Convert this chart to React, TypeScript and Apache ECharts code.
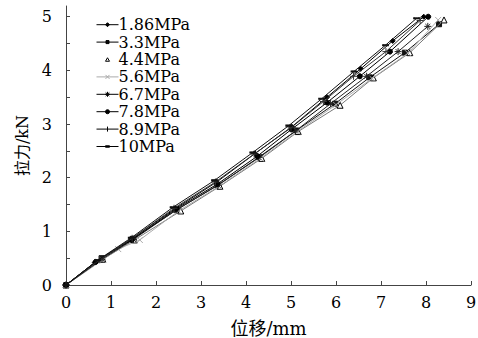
import React, { useEffect, useRef } from "react";
import * as echarts from "echarts";

const seriesNames = ["1.86MPa", "3.3MPa", "4.4MPa", "5.6MPa", "6.7MPa", "7.8MPa", "8.9MPa", "10MPa"];

const s186: number[][] = [[0, 0], [0.64, 0.42], [1.45, 0.86], [2.42, 1.42], [3.35, 1.92], [4.2, 2.45], [5.02, 2.95], [5.8, 3.5], [6.55, 4.03], [7.26, 4.55], [7.95, 5.0]];
const s33: number[][] = [[0, 0], [0.79, 0.5], [1.48, 0.86], [2.46, 1.4], [3.37, 1.86], [4.3, 2.38], [5.12, 2.88], [5.98, 3.38], [6.75, 3.87], [7.53, 4.33], [8.29, 4.86]];
const s44: number[][] = [[0, 0], [0.82, 0.48], [1.52, 0.84], [2.55, 1.38], [3.42, 1.84], [4.35, 2.36], [5.16, 2.86], [6.09, 3.35], [6.83, 3.86], [7.64, 4.33], [8.4, 4.94]];
const s56: number[][] = [[0, 0], [0.82, 0.47], [1.16, 0.67], [1.64, 0.84], [2.5, 1.38], [3.4, 1.84], [4.32, 2.36], [5.14, 2.86], [6.0, 3.36], [6.8, 3.85], [7.6, 4.32], [8.27, 4.94]];
const s67: number[][] = [[0, 0], [0.8, 0.48], [1.5, 0.85], [2.45, 1.4], [3.38, 1.86], [4.28, 2.38], [5.1, 2.87], [5.88, 3.38], [6.68, 3.89], [7.38, 4.35], [8.04, 4.82]];
const s78: number[][] = [[0, 0], [0.66, 0.43], [1.46, 0.84], [2.45, 1.42], [3.36, 1.88], [4.25, 2.4], [5.01, 2.9], [5.8, 3.4], [6.53, 3.89], [7.2, 4.35], [8.05, 5.0]];
const s89: number[][] = [[0, 0], [0.75, 0.47], [1.47, 0.87], [2.4, 1.43], [3.32, 1.92], [4.18, 2.44], [5.0, 2.93], [5.72, 3.42], [6.39, 3.89], [7.11, 4.35], [7.87, 4.93]];
const s10: number[][] = [[0, 0], [0.7, 0.46], [1.45, 0.88], [2.38, 1.45], [3.3, 1.95], [4.15, 2.47], [4.95, 2.97], [5.68, 3.47], [6.4, 3.98], [7.1, 4.47], [7.79, 4.97]];

const xTickLabels = [0, 1, 2, 3, 4, 5, 6, 7, 8, 9];
const yTickLabels = [0, 1, 2, 3, 4, 5];
const yMinorTicks = [0, 0.5, 1, 1.5, 2, 2.5, 3, 3.5, 4, 4.5, 5];

const FONT = "'DejaVu Serif', 'Noto Sans CJK SC', serif";

const LINE = "M0,5L22,5";
const EXT = "M0,5L0,5M22,5L22,5";

export default function App() {
  const ref = useRef<HTMLDivElement>(null);
  useEffect(() => {
    if (!ref.current) return;
    const chart = echarts.init(ref.current, null, { renderer: "svg" });
    const datasets = [s186, s33, s44, s56, s67, s78, s89, s10];
    const styles = [
      { symbol: "diamond", symbolSize: 5, line: "#000", color: "#000", border: "#000",
        icon: LINE + "M11,3L13,5L11,7L9,5Z" },
      { symbol: "rect", symbolSize: 5, line: "#111", color: "#111", border: "#111",
        icon: LINE + "M9.5,3.5L12.5,3.5L12.5,6.5L9.5,6.5Z" },
      { symbol: "triangle", symbolSize: 6, line: "#777", color: "#fff", border: "#000",
        icon: EXT + "M11,3L13,6.5L9,6.5Z" },
      { symbol: "path://M-4,-4L4,4M-4,4L4,-4", symbolSize: 6, line: "#aaa", color: "#aaa", border: "#aaa",
        icon: LINE + "M9,3L13,7M9,7L13,3" },
      { symbol: "path://M0,-5L0,5M-5,0L5,0M-3.5,-3.5L3.5,3.5M-3.5,3.5L3.5,-3.5", symbolSize: 7, line: "#222", color: "#222", border: "#222",
        icon: LINE + "M11,2.5L11,7.5M8.5,5L13.5,5M9.2,3.2L12.8,6.8M9.2,6.8L12.8,3.2" },
      { symbol: "circle", symbolSize: 5, line: "#000", color: "#000", border: "#000",
        icon: LINE + "M9,5A2,2 0 1,0 13,5A2,2 0 1,0 9,5Z" },
      { symbol: "path://M0,-4L0,4M-4,0L4,0", symbolSize: 7, line: "#333", color: "#333", border: "#333",
        icon: LINE + "M11,2.5L11,7.5" },
      { symbol: "rect", symbolSize: [5, 1.5], line: "#111", color: "#111", border: "#111",
        icon: EXT + "M0,5L22,5M9,4.3L13,4.3L13,5.7L9,5.7Z" },
    ];
    const series = seriesNames.map((name, i) => ({
      name,
      type: "line",
      data: datasets[i],
      symbol: styles[i].symbol,
      symbolSize: styles[i].symbolSize,
      showAllSymbol: true,
      lineStyle: { color: styles[i].line, width: 1 },
      itemStyle: { color: styles[i].color, borderColor: styles[i].border, borderWidth: 1 },
      z: 2 + i,
    }));
    chart.setOption({
      animation: false,
      grid: { left: 66, right: 7, top: 6, bottom: 53, outerBoundsMode: "none", containLabel: false },
      legend: {
        orient: "vertical",
        left: 91,
        top: 11,
        itemWidth: 22,
        itemHeight: 10,
        itemGap: 0,
        symbolKeepAspect: true,
        textStyle: { fontFamily: FONT, fontSize: 16, color: "#000", lineHeight: 17.4, padding: [0, 0, 0, -5] },
        data: seriesNames.map((n, i) => ({
          name: n,
          icon: "path://" + styles[i].icon,
          itemStyle: {
            color: styles[i].color,
            borderColor: i === 3 ? "#aaa" : "#000",
            borderWidth: 1,
          },
        })),
      },
      xAxis: {
        type: "value",
        min: 0,
        max: 9,
        interval: 1,
        name: "位移/mm",
        nameLocation: "middle",
        nameGap: 34,
        nameTextStyle: { fontFamily: FONT, fontSize: 18, color: "#000" },
        axisLine: { lineStyle: { color: "#444", width: 1 } },
        axisTick: { inside: true, length: 4, lineStyle: { color: "#444" } },
        axisLabel: { fontFamily: FONT, fontSize: 16, color: "#000", margin: 9, customValues: xTickLabels },
        splitLine: { show: false },
      },
      yAxis: {
        type: "value",
        min: 0,
        max: 5.2,
        interval: 1,
        name: "拉力/kN",
        nameLocation: "middle",
        nameGap: 34,
        nameTextStyle: { fontFamily: FONT, fontSize: 16, color: "#000" },
        axisLine: { show: true, lineStyle: { color: "#444", width: 1 } },
        axisTick: { show: true, inside: true, length: 4, lineStyle: { color: "#444" }, customValues: yMinorTicks },
        axisLabel: { fontFamily: FONT, fontSize: 16, color: "#000", margin: 14, customValues: yTickLabels },
        splitLine: { show: false },
      },
      series,
    });
    return () => chart.dispose();
  }, []);
  return <div ref={ref} style={{ width: 478, height: 338, position: "absolute", left: 0, top: 0 }} />;
}
